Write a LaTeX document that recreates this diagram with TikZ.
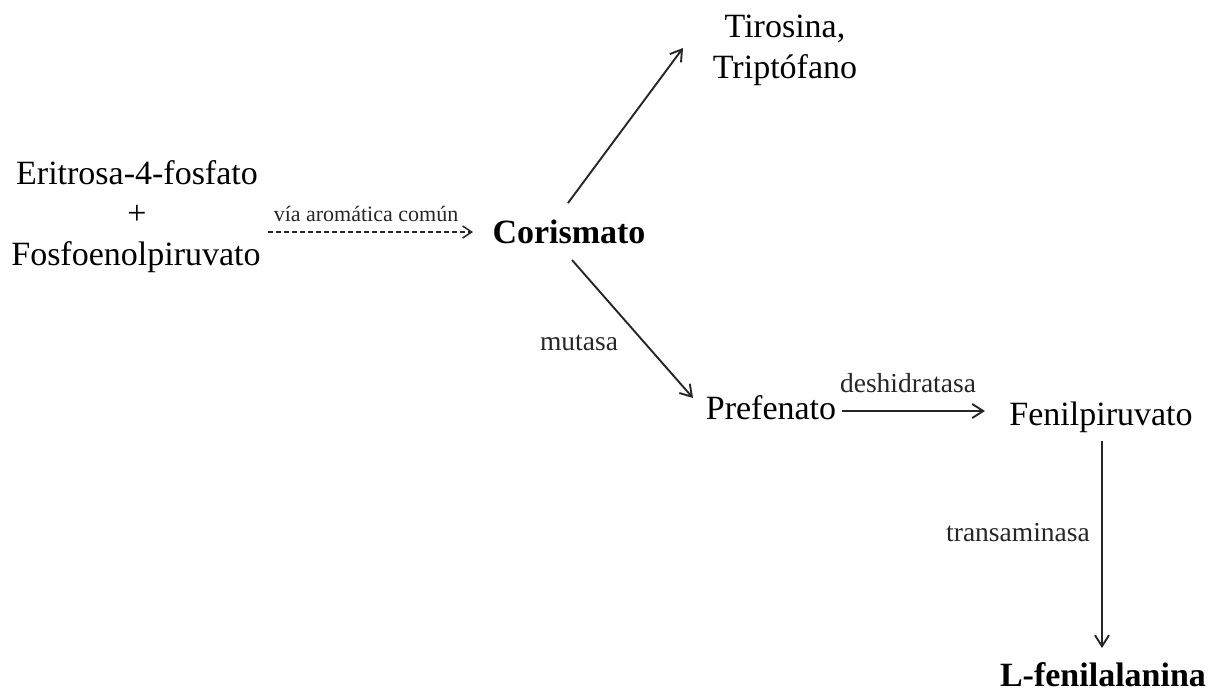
\documentclass[tikz,border=0pt]{standalone}
\usepackage{fontspec}
\setmainfont{Liberation Serif}
\usepackage{tikz}
\usetikzlibrary{arrows.meta}
\tikzset{
  mol/.style     = {font=\fontsize{34}{41}\selectfont, inner sep=0pt, outer sep=0pt},
  molb/.style    = {font=\fontsize{34}{41}\selectfont\bfseries, inner sep=0pt, outer sep=0pt},
  enz/.style     = {font=\fontsize{27.5}{30}\selectfont, inner sep=0pt, outer sep=0pt, anchor=base},
  enzsm/.style   = {font=\fontsize{22}{24}\selectfont, inner sep=0pt, outer sep=0pt, anchor=base},
  rxn/.style     = {-{Straight Barb[length=11pt,width=14pt,line width=1.9pt]}, line width=1.9pt, black!85},
  rxndash/.style = {-{Straight Barb[length=9pt,width=12pt,line width=1.5pt]}, line width=1.5pt, black!85,
                    dash pattern=on 5pt off 3pt},
}
\begin{document}
\begin{tikzpicture}[x=1pt,y=-1pt]
\useasboundingbox (0,0) rectangle (1210,691);

% ---- sustratos -----------------------------------------------------------
\node[mol, anchor=base] (eritrosa) at (137,184) {Eritrosa-4-fosfato};
\node[mol]              (mas)      at (137,215) {+};
\node[mol, anchor=base] (fosfo)    at (136,265) {Fosfoenolpiruvato};

% ---- intermedios y productos ---------------------------------------------
\node[molb, anchor=base] (coris) at (569,243) {Corismato};
\node[mol, align=center] (tiro)  at (785,50)  {Tirosina,\\Triptófano};
\node[mol, anchor=base]  (pref)  at (771,419) {Prefenato};
\node[mol, anchor=base]  (fenil) at (1101,425) {Fenilpiruvato};
\node[molb, anchor=base] (lfen)  at (1103,686) {L-fenilalanina};

% ---- reacciones ----------------------------------------------------------
\draw[rxndash] ([shift={(131,17)}]mas.center) -- ([shift={(-96,-11)}]coris.base)
  node[enzsm, midway, shift={(-4.5,-11)}] (via) {vía aromática común};
\draw[rxn] ([shift={(-1,-40)}]coris.base) -- ([shift={(-102,-2)}]tiro.center);
\draw[rxn] ([shift={(3,17)}]coris.base) -- ([shift={(-78,-21)}]pref.base)
  node[enz, midway, shift={(-53.5,21)}] (mutasa) {mutasa};
\draw[rxn] ([shift={(71,-8)}]pref.base) -- ([shift={(-116,-14)}]fenil.base)
  node[enz, midway, shift={(-5.5,-19)}] (deshid) {deshidratasa};
\draw[rxn] ([shift={(1,16)}]fenil.base) -- ([shift={(-1,-38)}]lfen.base)
  node[enz, midway, shift={(-84,-3)}] (transam) {transaminasa};

\end{tikzpicture}
\end{document}
